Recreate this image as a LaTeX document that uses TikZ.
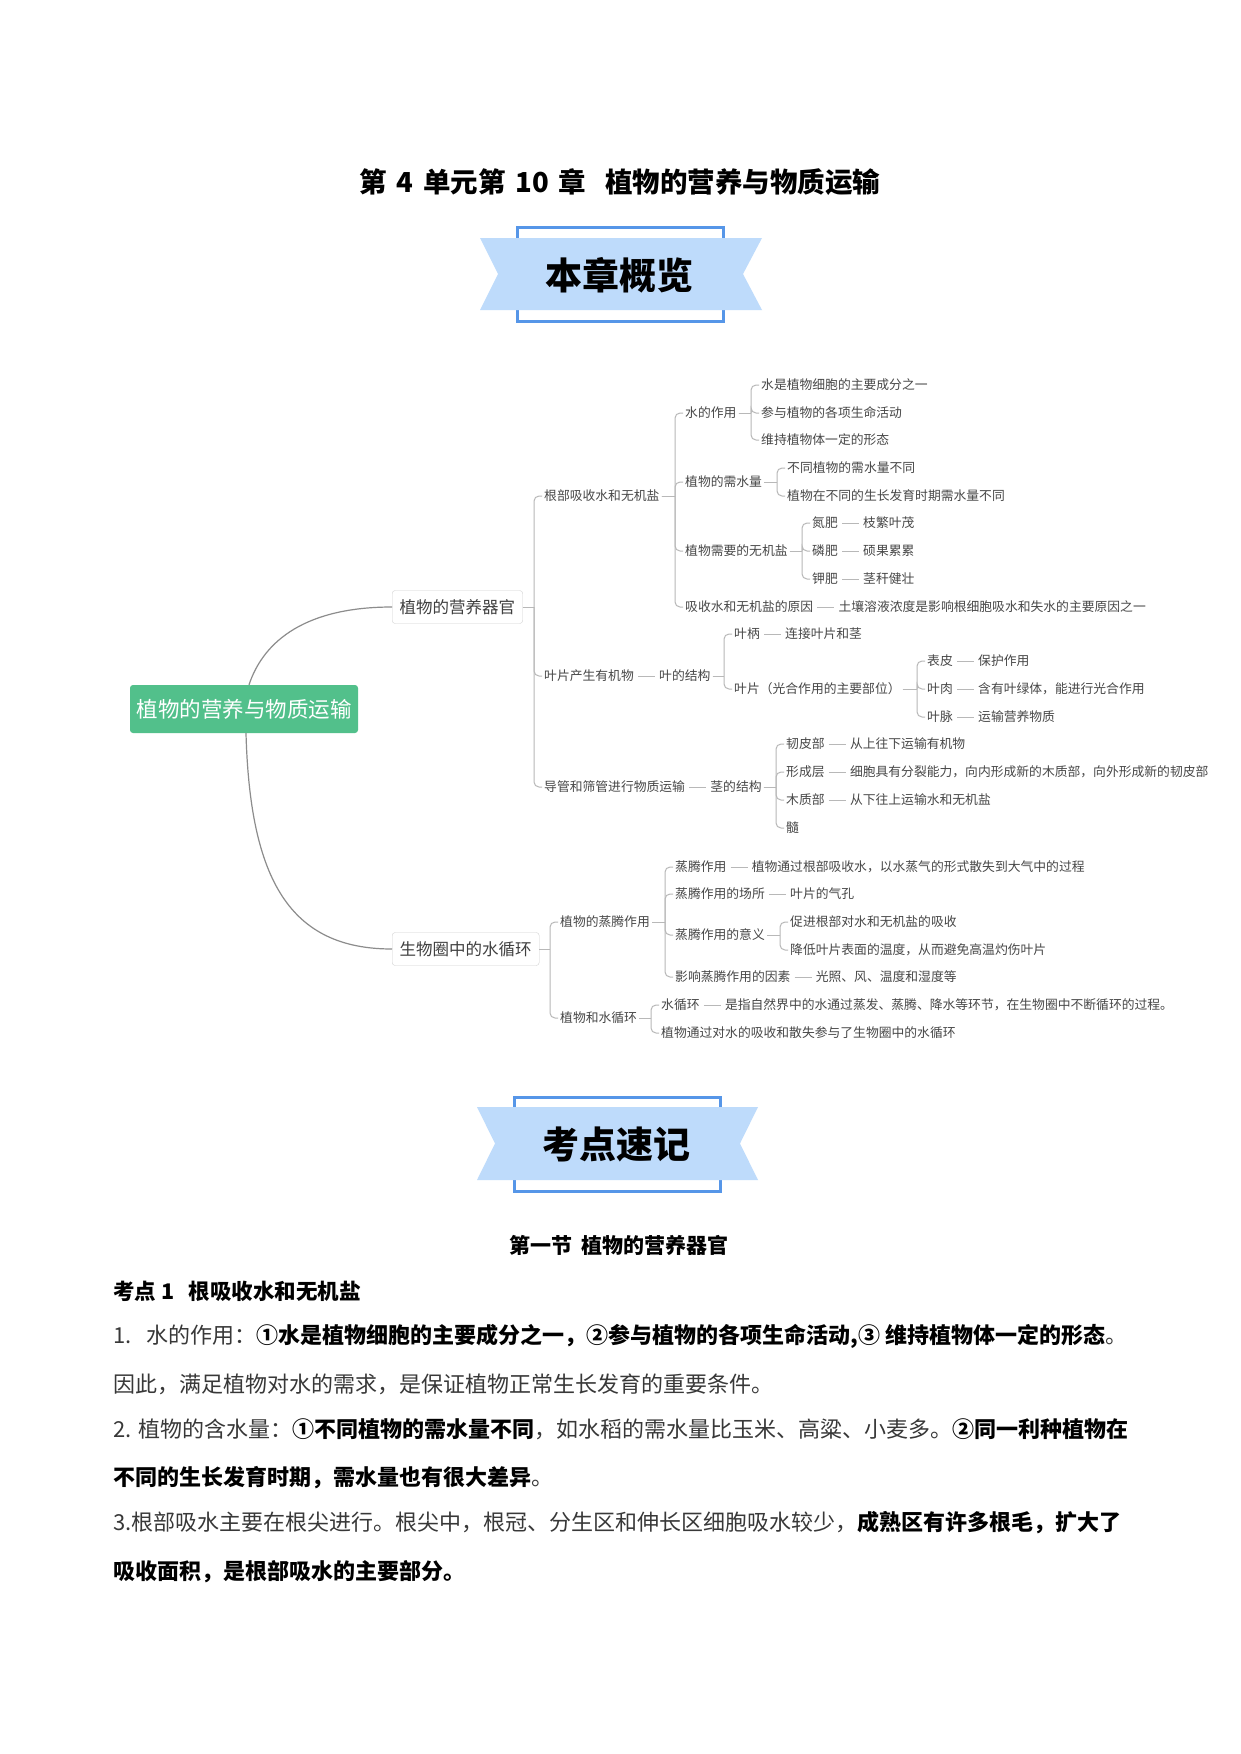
\documentclass[tikz,border=0pt]{standalone}
\usepackage{fontspec}
\setmainfont{Noto Sans CJK SC}
\usepackage{tikz}
\usetikzlibrary{positioning,calc}

\definecolor{mapgreen}{RGB}{82,192,139}
\definecolor{bandblue}{RGB}{190,219,251}
\definecolor{frameblue}{RGB}{86,150,232}

% bracket from a parent to its children
\newcommand\fork[2]{%
  \foreach \kid in {#2}{%
    \draw[link] (#1.east) -- ($(#1.east -| \kid.west)+(-8,0)$);
    \draw[link, rounded corners=5pt] ($(#1.east -| \kid.west)+(-8,0)$) |- (\kid.west);
  }}

\begin{document}
\begin{tikzpicture}[x=1pt, y=-1pt,
    root/.style={fill=mapgreen, rounded corners=3pt, text=white, minimum width=228pt, minimum height=48pt, font=\fontsize{21.5}{24}\selectfont},
    topic/.style={draw=black!18, fill=white, rounded corners=3pt, anchor=west, inner xsep=7.5pt, minimum height=33pt, text=black!75, font=\fontsize{16.5}{19}\selectfont},
    leaf/.style={anchor=west, inner sep=2pt, text=black!72, font=\fontsize{12.8}{15}\selectfont},
    link/.style={draw=black!28, line width=1pt},
    tie/.style={link, shorten <=2pt, shorten >=2pt},
    curve/.style={draw=black!45, line width=1.2pt},
    band/.style={fill=bandblue},
    frame/.style={draw=frameblue, line width=3pt},
    banner/.style={font=\bfseries\fontsize{37}{40}\selectfont},
    body/.style={anchor=west, inner sep=0pt, text=black!78, font=\fontsize{22}{26}\selectfont},
    node distance=21pt
]
    \useasboundingbox (0,0) rectangle (1241,1754);
    \fill[white] (0,0) rectangle (1241,1754);

    % title
    \node[font=\bfseries\fontsize{27.5}{30}\selectfont] (title) at (620,182) {第\hspace{0.35em}4\hspace{0.35em}单元第\hspace{0.35em}10\hspace{0.35em}章\hspace{0.7em}植物的营养与物质运输};

    % banner 1
    \draw[frame] (517,227) rectangle (723,321);
    \fill[band] (480,238) -- (762,238) -- (743,274) -- (762,310) -- (480,310) -- (498,274) -- cycle;
    \node[banner] (ban1) at (619,275) {本章概览};

    % mind map: main nodes
    \node[root] (root) at (244,709) {植物的营养与物质运输};
    \node[topic] (organ) at (392,607) {植物的营养器官};
    \node[topic] (cycle) at (392,949) {生物圈中的水循环};

    \draw[curve] ($(root.north)+(5,0)$) .. controls +(15,-45) and +(-85,0) .. (organ.west);
    \draw[curve] ($(root.south)+(2,0)$) .. controls +(4,147) and +(-102,0) .. (cycle.west);

    % organ branch
    \node[leaf] (absorb) at (542,496) {根部吸收水和无机盐};
    \node[leaf] (leafp) at (542,676) {叶片产生有机物};
    \node[leaf] (tube) at (542,787) {导管和筛管进行物质运输};

    \node[leaf] (water) at (683,413) {水的作用};
    \node[leaf] (need) at (683,482) {植物的需水量};
    \node[leaf] (salt) at (683,551) {植物需要的无机盐};
    \node[leaf] (why) at (683,607) {吸收水和无机盐的原因};
    \node[leaf, right=of why] (whyv) {土壤溶液浓度是影响根细胞吸水和失水的主要原因之一};

    \node[leaf] (w1) at (759,385) {水是植物细胞的主要成分之一};
    \node[leaf] (w2) at (759,413) {参与植物的各项生命活动};
    \node[leaf] (w3) at (759,440) {维持植物体一定的形态};

    \node[leaf] (n1) at (785,468) {不同植物的需水量不同};
    \node[leaf] (n2) at (785,496) {植物在不同的生长发育时期需水量不同};

    \node[leaf] (s1) at (810,523) {氮肥};
    \node[leaf] (s2) at (810,551) {磷肥};
    \node[leaf] (s3) at (810,579) {钾肥};
    \node[leaf, right=of s1] (s1v) {枝繁叶茂};
    \node[leaf, right=of s2] (s2v) {硕果累累};
    \node[leaf, right=of s3] (s3v) {茎秆健壮};

    \node[leaf, right=of leafp] (lstr) {叶的结构};
    \node[leaf] (l1) at (732,634) {叶柄};
    \node[leaf, right=of l1] (l1v) {连接叶片和茎};
    \node[leaf] (l2) at (732,689) {叶片（光合作用的主要部位）};
    \node[leaf] (b1) at (925,661) {表皮};
    \node[leaf] (b2) at (925,689) {叶肉};
    \node[leaf] (b3) at (925,717) {叶脉};
    \node[leaf, right=of b1] (b1v) {保护作用};
    \node[leaf, right=of b2] (b2v) {含有叶绿体，能进行光合作用};
    \node[leaf, right=of b3] (b3v) {运输营养物质};

    \node[leaf, right=of tube] (sstr) {茎的结构};
    \node[leaf] (t1) at (784,744) {韧皮部};
    \node[leaf] (t2) at (784,772) {形成层};
    \node[leaf] (t3) at (784,800) {木质部};
    \node[leaf] (t4) at (784,828) {髓};
    \node[leaf, right=of t1] (t1v) {从上往下运输有机物};
    \node[leaf, right=of t2] (t2v) {细胞具有分裂能力，向内形成新的木质部，向外形成新的韧皮部};
    \node[leaf, right=of t3] (t3v) {从下往上运输水和无机盐};

    % water cycle branch
    \node[leaf] (trans) at (558,922) {植物的蒸腾作用};
    \node[leaf] (plant) at (558,1018) {植物和水循环};

    \node[leaf] (r1) at (673,867) {蒸腾作用};
    \node[leaf] (r2) at (673,894) {蒸腾作用的场所};
    \node[leaf] (r3) at (673,935) {蒸腾作用的意义};
    \node[leaf] (r4) at (673,977) {影响蒸腾作用的因素};
    \node[leaf, right=of r1] (r1v) {植物通过根部吸收水，以水蒸气的形式散失到大气中的过程};
    \node[leaf, right=of r2] (r2v) {叶片的气孔};
    \node[leaf, right=of r4] (r4v) {光照、风、温度和湿度等};
    \node[leaf] (m1) at (788,922) {促进根部对水和无机盐的吸收};
    \node[leaf] (m2) at (788,950) {降低叶片表面的温度，从而避免高温灼伤叶片};

    \node[leaf] (p1) at (659,1005) {水循环};
    \node[leaf, right=of p1] (p1v) {是指自然界中的水通过蒸发、蒸腾、降水等环节，在生物圈中不断循环的过程。};
    \node[leaf] (p2) at (659,1033) {植物通过对水的吸收和散失参与了生物圈中的水循环};

    % connectors
    \fork{organ}{absorb,leafp,tube}
    \fork{absorb}{water,need,salt,why}
    \fork{water}{w1,w2,w3}
    \fork{need}{n1,n2}
    \fork{salt}{s1,s2,s3}
    \fork{lstr}{l1,l2}
    \fork{l2}{b1,b2,b3}
    \fork{sstr}{t1,t2,t3,t4}
    \fork{cycle}{trans,plant}
    \fork{trans}{r1,r2,r3,r4}
    \fork{r3}{m1,m2}
    \fork{plant}{p1,p2}
    \foreach \a in {why,s1,s2,s3,l1,b1,b2,b3,t1,t2,t3,r1,r2,r4,p1}
        \draw[tie] (\a.east) -- (\a v.west);
    \draw[tie] (leafp.east) -- (lstr.west);
    \draw[tie] (tube.east) -- (sstr.west);

    % banner 2
    \draw[frame] (514,1097) rectangle (720,1191);
    \fill[band] (477,1107) -- (758,1107) -- (740,1143.5) -- (758,1180) -- (477,1180) -- (495,1143.5) -- cycle;
    \node[banner] (ban2) at (616,1144) {考点速记};

    % notes
    \node[font=\bfseries\fontsize{21}{24}\selectfont] (sec) at (619,1245) {第一节\ \ 植物的营养器官};
    \node[body, text=black, font=\bfseries\fontsize{21.5}{24}\selectfont] (pt) at (113,1291) {考点 1\ \ \ 根吸收水和无机盐};
    \node[body] (ln1) at (113,1336) {1.\ \ \ 水的作用：{\bfseries\color{black}①水是植物细胞的主要成分之一，②参与植物的各项生命活动,③ 维持植物体一定的形态}。};
    \node[body] (ln2) at (113,1384) {因此，满足植物对水的需求，是保证植物正常生长发育的重要条件。};
    \node[body] (ln3) at (113,1429) {2. 植物的含水量：{\bfseries\color{black}①不同植物的需水量不同}，如水稻的需水量比玉米、高粱、小麦多。{\bfseries\color{black}②同一利种植物在}};
    \node[body] (ln4) at (113,1478) {{\bfseries\color{black}不同的生长发育时期，需水量也有很大差异}。};
    \node[body] (ln5) at (113,1523) {3.根部吸水主要在根尖进行。根尖中，根冠、分生区和伸长区细胞吸水较少，{\bfseries\color{black}成熟区有许多根毛，扩大了}};
    \node[body] (ln6) at (113,1572) {{\bfseries\color{black}吸收面积，是根部吸水的主要部分。}};
\end{tikzpicture}
\end{document}
